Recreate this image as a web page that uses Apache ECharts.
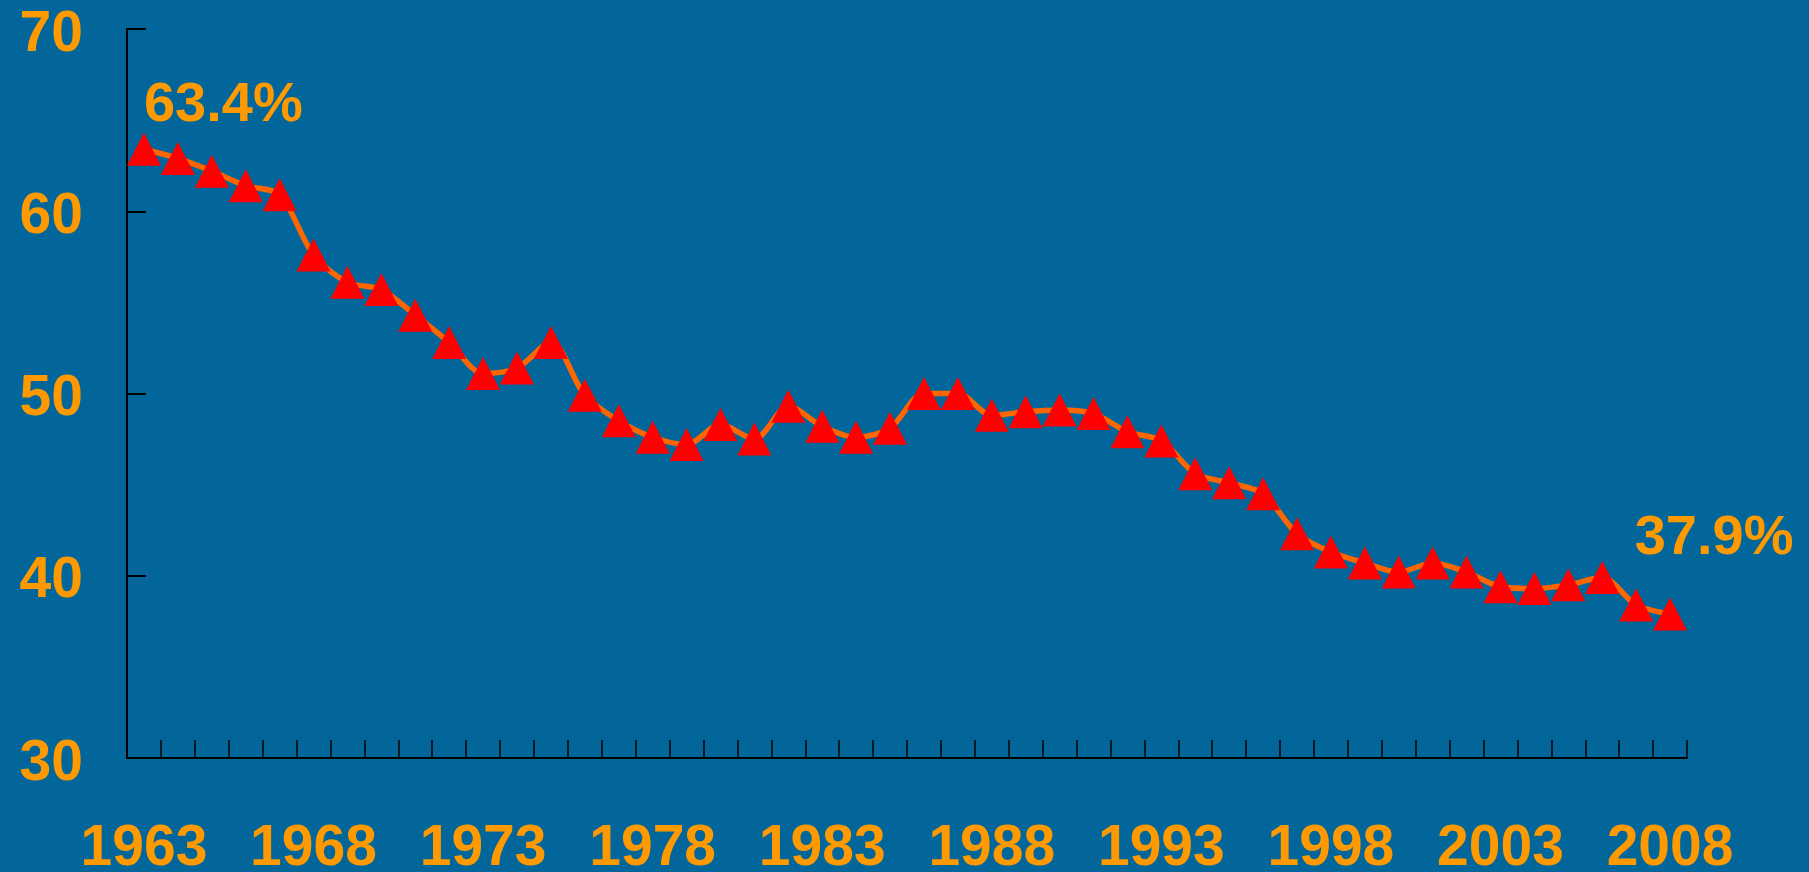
<!DOCTYPE html>
<html>
<head>
<meta charset="utf-8">
<script src="https://cdn.jsdelivr.net/npm/echarts@6/dist/echarts.min.js"></script>
<style>
  html, body { margin: 0; padding: 0; background: #02669a; }
  #chart { width: 1809px; height: 872px; }
</style>
</head>
<body>
<div id="chart"></div>
<script>
const years = [];
for (let y = 1963; y <= 2008; y++) years.push(String(y));

const share = [
  63.4, 62.9, 62.2, 61.4, 60.9, 57.6, 56.1, 55.7, 54.3, 52.8,
  51.1, 51.4, 52.8, 49.9, 48.5, 47.6, 47.2, 48.3, 47.5, 49.3,
  48.2, 47.6, 48.1, 50.0, 50.0, 48.8, 49.0, 49.1, 48.9, 47.9,
  47.4, 45.6, 45.1, 44.5, 42.3, 41.3, 40.7, 40.2, 40.7, 40.2,
  39.4, 39.3, 39.5, 39.9, 38.4, 37.9
];

const firstLabel = "63.4%";
const lastLabel = "37.9%";

const orange = "#ff9900";
const font = "'Liberation Sans', Arial, sans-serif";
const tickFont = { color: orange, fontSize: 57, fontWeight: "bold", fontFamily: font };

const chart = echarts.init(document.getElementById("chart"));

const seriesData = share.map((v, i) => {
  if (i === 0) {
    return {
      value: v,
      label: { show: true, formatter: firstLabel, position: "top", align: "left", distance: 2, offset: [0, 3] }
    };
  }
  if (i === share.length - 1) {
    return {
      value: v,
      label: { show: true, formatter: lastLabel, position: "top", align: "center", distance: 2, offset: [44, -29] }
    };
  }
  return v;
});

chart.setOption({
  backgroundColor: "#02669a",
  animation: false,
  grid: { left: 127, right: 122, top: 29, bottom: 114, containLabel: false, outerBoundsMode: "none" },
  xAxis: {
    type: "category",
    data: years,
    boundaryGap: true,
    axisLine: { lineStyle: { color: "#000", width: 2 } },
    axisTick: { show: true, inside: true, length: 18, interval: 0, lineStyle: { color: "#000", width: 1.5 } },
    axisLabel: Object.assign({ interval: 4, margin: 63 }, tickFont),
    splitLine: { show: false }
  },
  yAxis: {
    type: "value",
    min: 30,
    max: 70,
    interval: 10,
    axisLine: { show: true, lineStyle: { color: "#000", width: 2 } },
    axisTick: { show: true, inside: true, length: 19, lineStyle: { color: "#000", width: 2 } },
    axisLabel: Object.assign({
      margin: 44,
      formatter: "{a|{value}}",
      rich: { a: Object.assign({ padding: [12, 0, 0, 0] }, tickFont) }
    }, tickFont),
    splitLine: { show: false }
  },
  series: [
    {
      type: "line",
      data: seriesData,
      smooth: 0.3,
      symbol: "triangle",
      symbolSize: [34, 33],
      showAllSymbol: true,
      lineStyle: { color: "#ff6600", width: 5.5 },
      itemStyle: { color: "#ff0000" },
      label: {
        show: false,
        color: orange,
        fontSize: 56,
        fontWeight: "bold",
        fontFamily: font
      }
    }
  ]
});
</script>
</body>
</html>
